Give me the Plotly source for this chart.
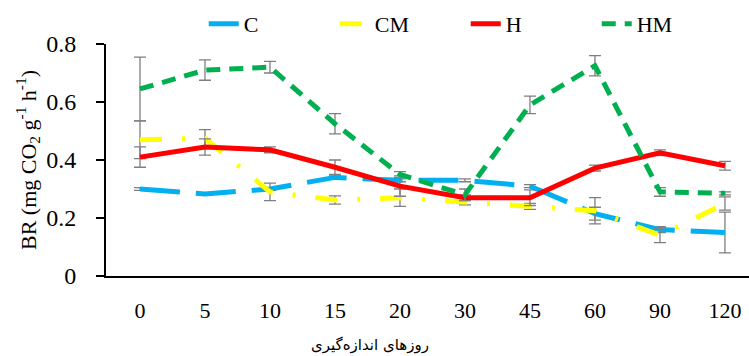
import plotly.graph_objects as go

categories = ["0", "5", "10", "15", "20", "30", "45", "60", "90", "120"]

C = [0.30, 0.283, 0.30, 0.34, 0.33, 0.33, 0.31, 0.215, 0.16, 0.15]
C_err = [0.005, 0.002, 0.005, 0.005, 0.005, 0.005, 0.005, 0.022, 0.01, 0.07]
CM = [0.47, 0.475, 0.29, 0.262, 0.27, 0.255, 0.24, 0.225, 0.14, 0.25]
CM_err = [0.065, 0.03, 0.03, 0.014, 0.03, 0.01, 0.01, 0.045, 0.025, 0.023]
H = [0.41, 0.445, 0.435, 0.375, 0.31, 0.27, 0.27, 0.372, 0.425, 0.38]
H_err = [0.035, 0.028, 0.01, 0.025, 0.035, 0.01, 0.027, 0.01, 0.01, 0.015]
HM = [0.645, 0.71, 0.72, 0.525, 0.35, 0.28, 0.59, 0.725, 0.29, 0.285]
HM_err = [0.11, 0.035, 0.02, 0.035, 0.01, 0.02, 0.03, 0.035, 0.015, 0.005]

y_title = "BR (mg CO<sub>2</sub> g<sup>-1</sup> h<sup>-1</sup>)"
x_title = "روزهای اندازه\u200cگیری"

serif = "Liberation Serif"

series = [
    ("C", C, C_err, "#00B0F0", "40px,16px"),
    ("CM", CM, CM_err, "#FFFF00", "22px,20px,3px,20px"),
    ("H", H, H_err, "#FF0000", "solid"),
    ("HM", HM, HM_err, "#00B050", "14px,9px"),
]

fig = go.Figure()
for name, vals, errs, color, dash in series:
    fig.add_trace(go.Scatter(
        x=categories, y=vals, name=name, mode="lines",
        line=dict(color=color, width=5, dash=dash),
        error_y=dict(type="data", array=errs, visible=True,
                     color="#7F7F7F", thickness=1.3, width=6),
    ))

fig.update_layout(
    width=749, height=356,
    margin=dict(l=106, r=0, t=44, b=80, autoexpand=False),
    paper_bgcolor="white", plot_bgcolor="white",
    font=dict(family=serif, size=22, color="black"),
    showlegend=True,
    legend=dict(orientation="h", x=0.152, y=1.177, xanchor="left", yanchor="top",
                entrywidth=86, entrywidthmode="pixels",
                font=dict(family=serif, size=22, color="black"),
                bgcolor="rgba(0,0,0,0)"),
    xaxis=dict(type="category", range=[-0.523, 9.37],
               showline=True, linecolor="black", linewidth=2,
               ticks="", showgrid=False, zeroline=False,
               tickfont=dict(family=serif, size=22, color="black"),
               ticklabelstandoff=14),
    yaxis=dict(range=[0, 0.8], dtick=0.2, tickformat=".1~f",
               showline=True, linecolor="black", linewidth=2,
               ticks="outside", ticklen=8, tickwidth=2, tickcolor="black",
               showgrid=False, zeroline=False,
               tickfont=dict(family=serif, size=24, color="black"),
               ticklabelstandoff=15,
               title=dict(text=y_title, font=dict(family=serif, size=22, color="black"),
                          standoff=4)),
    annotations=[dict(text=x_title, xref="paper", yref="paper",
                      x=(370 - 106) / 643, y=-(345 - 276) / 232,
                      xanchor="center", yanchor="middle", showarrow=False,
                      font=dict(family="DejaVu Sans", size=15, color="black"))],
)

fig.write_html("out.html", config={"displayModeBar": False},
               post_script="document.body.style.margin='0px';")
